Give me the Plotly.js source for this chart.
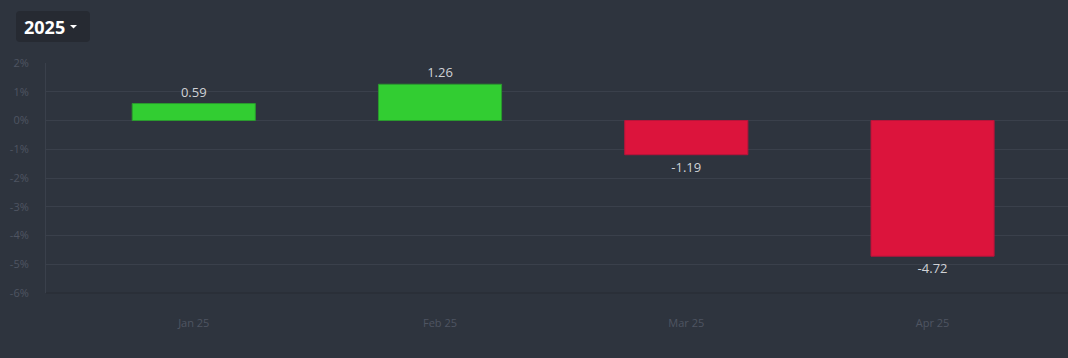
<!DOCTYPE html>
<html>
<head>
<meta charset="utf-8">
<script src="https://cdn.plot.ly/plotly-3.0.1.min.js"></script>
<style>
html,body{margin:0;padding:0;background:#2e343e;}
#chart{width:1068px;height:358px;}
</style>
</head>
<body>
<div id="chart"></div>
<script>
const categories = ["Jan 25", "Feb 25", "Mar 25", "Apr 25"];
const returns = [0.59, 1.26, -1.19, -4.72];
const yearLabel = "2025";
const yTicks = [2, 1, 0, -1, -2, -3, -4, -5, -6];

const colors = returns.map(v => v >= 0 ? "#32cd32" : "#dc143c");
const lineColors = returns.map(v => v >= 0 ? "#2a9a2e" : "#b8143a");

// plot-area geometry (pixels) used only to place the year selector chrome
const M = {l: 46, r: 0, t: 63, b: 65};
const PW = 1068 - M.l - M.r, PH = 358 - M.t - M.b;
const px = x => (x - M.l) / PW;
const py = y => (358 - M.b - y) / PH;

function roundRect(x0, y0, x1, y1, r) {
  const p = [
    `M ${px(x0 + r)} ${py(y0)}`,
    `L ${px(x1 - r)} ${py(y0)}`,
    `Q ${px(x1)} ${py(y0)} ${px(x1)} ${py(y0 + r)}`,
    `L ${px(x1)} ${py(y1 - r)}`,
    `Q ${px(x1)} ${py(y1)} ${px(x1 - r)} ${py(y1)}`,
    `L ${px(x0 + r)} ${py(y1)}`,
    `Q ${px(x0)} ${py(y1)} ${px(x0)} ${py(y1 - r)}`,
    `L ${px(x0)} ${py(y0 + r)}`,
    `Q ${px(x0)} ${py(y0)} ${px(x0 + r)} ${py(y0)} Z`
  ];
  return p.join(" ");
}

const trace = {
  type: "bar",
  x: categories,
  y: returns,
  width: 0.5,
  marker: {color: colors, line: {color: lineColors, width: 1}},
  text: returns.map(v => v.toFixed(2)),
  textposition: "outside",
  cliponaxis: false,
  textfont: {family: "Open Sans, sans-serif", size: 13, color: "#d0d2d6"},
  hoverinfo: "x+y"
};

const layout = {
  width: 1068,
  height: 358,
  paper_bgcolor: "#2e343e",
  plot_bgcolor: "#2e343e",
  margin: M,
  font: {family: "Open Sans, sans-serif", color: "#4f5562", size: 11},
  showlegend: false,
  bargap: 0.5,
  xaxis: {
    type: "category",
    range: [-0.6, 3.55],
    showgrid: false,
    zeroline: false,
    showline: false,
    ticks: "outside",
    ticklen: 20,
    tickcolor: "rgba(0,0,0,0)",
    tickfont: {size: 11, color: "#4f5562"},
    fixedrange: true
  },
  yaxis: {
    range: [-6, 2],
    tickvals: yTicks,
    ticktext: yTicks.map(v => v + "%"),
    showgrid: true,
    gridcolor: "#3a404b",
    gridwidth: 1,
    zeroline: false,
    showline: true,
    linecolor: "#3a404b",
    linewidth: 1,
    ticks: "outside",
    ticklen: 14,
    tickcolor: "rgba(0,0,0,0)",
    tickfont: {size: 11, color: "#4f5562"},
    fixedrange: true
  },
  shapes: [
    {type: "line", xref: "paper", yref: "paper", x0: 0, x1: 1, y0: 0, y1: 0,
     line: {color: "#262b33", width: 1}},
    {type: "path", xref: "paper", yref: "paper", path: roundRect(16, 11, 90, 42, 4),
     fillcolor: "#262a32", line: {width: 0}, layer: "above"},
    {type: "path", xref: "paper", yref: "paper",
     path: `M ${px(70)} ${py(25)} L ${px(77)} ${py(25)} L ${px(73.5)} ${py(28.5)} Z`,
     fillcolor: "#ffffff", line: {width: 0}, layer: "above"}
  ],
  annotations: [
    {
      xref: "paper", yref: "paper",
      x: px(44), y: py(27),
      xanchor: "center", yanchor: "middle",
      text: "<b>" + yearLabel + "</b>",
      showarrow: false,
      font: {family: "Open Sans, sans-serif", size: 18, color: "#ffffff"}
    }
  ]
};

Plotly.newPlot("chart", [trace], layout, {displayModeBar: false, staticPlot: true});
</script>
</body>
</html>
